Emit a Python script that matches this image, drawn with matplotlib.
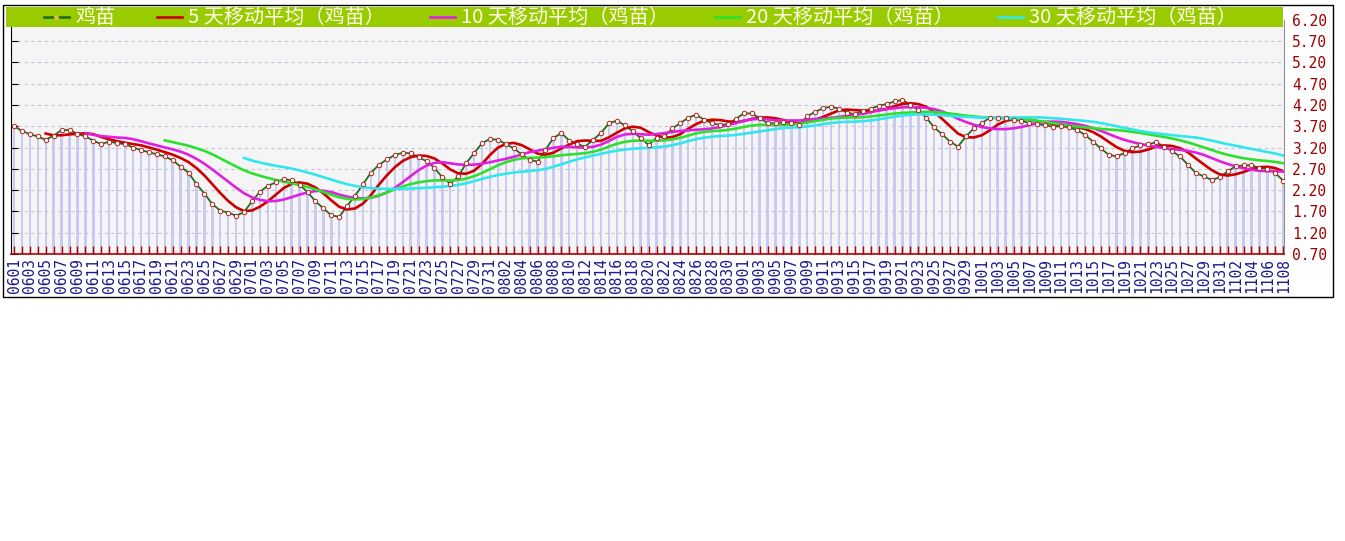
import numpy as np
import pandas as pd
import matplotlib
matplotlib.use("Agg")
import matplotlib.pyplot as plt
from matplotlib.lines import Line2D
from matplotlib.patches import Rectangle

plt.rcParams['font.family'] = ['Noto Sans CJK SC', 'DejaVu Sans']

# daily price of 鸡苗, 0601 .. 1108
start_day = "2023-06-01"
price = [
    3.70, 3.59, 3.51, 3.46, 3.38, 3.48, 3.61, 3.61, 3.52, 3.46,
    3.36, 3.28, 3.34, 3.30, 3.28, 3.20, 3.14, 3.09, 3.04, 2.99,
    2.90, 2.75, 2.61, 2.34, 2.12, 1.87, 1.72, 1.67, 1.60, 1.68,
    1.94, 2.16, 2.30, 2.38, 2.46, 2.43, 2.33, 2.15, 1.94, 1.77,
    1.61, 1.57, 1.83, 2.07, 2.34, 2.61, 2.79, 2.92, 3.02, 3.08,
    3.06, 2.97, 2.88, 2.72, 2.50, 2.35, 2.52, 2.83, 3.07, 3.30,
    3.40, 3.38, 3.28, 3.18, 3.04, 2.91, 2.87, 3.15, 3.42, 3.54,
    3.36, 3.28, 3.22, 3.38, 3.54, 3.77, 3.83, 3.72, 3.58, 3.42,
    3.26, 3.43, 3.46, 3.65, 3.77, 3.90, 3.97, 3.85, 3.77, 3.73,
    3.75, 3.87, 4.00, 4.00, 3.89, 3.77, 3.77, 3.79, 3.77, 3.73,
    3.93, 4.04, 4.12, 4.16, 4.11, 4.02, 3.98, 4.05, 4.11, 4.18,
    4.22, 4.28, 4.32, 4.20, 4.08, 3.90, 3.67, 3.51, 3.34, 3.22,
    3.46, 3.65, 3.77, 3.90, 3.90, 3.90, 3.85, 3.83, 3.77, 3.75,
    3.72, 3.69, 3.70, 3.67, 3.61, 3.50, 3.34, 3.18, 3.03, 2.99,
    3.07, 3.18, 3.25, 3.28, 3.32, 3.22, 3.11, 2.99, 2.79, 2.60,
    2.52, 2.44, 2.50, 2.64, 2.76, 2.78, 2.78, 2.72, 2.70, 2.60,
    2.42,
]
ma_windows = [5, 10, 20, 30]
ma_colors = ['#CC0000', '#E020E0', '#2EE02E', '#33E6EE']
price_name = '鸡苗'
ma_names = [f'{w} 天移动平均（鸡苗）' for w in ma_windows]
y_ticks = np.arange(0.70, 6.21, 0.5)

days = pd.date_range(start_day, periods=len(price))
labels = [d if i % 2 == 0 else '' for i, d in enumerate(days.strftime('%m%d'))]
s = pd.Series(price)
x = np.arange(len(price))

W, H = 1345, 541
fig = plt.figure(figsize=(W / 100, H / 100), dpi=100)
fig.patch.set_facecolor('white')


def fx(p):
    return p / W


def fy(p):
    return 1 - p / H


ax = fig.add_axes([fx(11), fy(254), fx(1284) - fx(11), fy(19.7) - fy(254)])
ax.set_facecolor('#F6F5F5')

ax.bar(x, s - 0.70, bottom=0.70, width=0.3, color='#CACAF2', zorder=1)
ax.plot(x, s, color='#1E6E1E', lw=1.3, zorder=3)
for w, c in zip(ma_windows, ma_colors):
    ax.plot(x, s.rolling(w).mean(), color=c, lw=1.9, zorder=4)
ax.plot(x, s, ls='none', marker='o', ms=3.2, mfc='white', mec='#B22222',
        mew=0.7, zorder=5)

ax.set_xlim(-0.38, len(price) - 0.9)
ax.set_ylim(0.70, 6.20)
ax.set_yticks(y_ticks)
ax.set_yticklabels([f'{v:.2f}' for v in y_ticks])
ax.yaxis.grid(True, linestyle=(0, (3, 3)), color='#C4C4DC', lw=0.8)
ax.tick_params(axis='y', left=True, right=False, labelleft=False, labelright=True,
               direction='in', length=5, color='black', labelcolor='#A00000',
               labelsize=10.5, pad=6)
for t in ax.get_yticklabels():
    t.set_family(['DejaVu Sans Mono'])

ax.set_xticks(x)
ax.set_xticklabels(labels, rotation=90)
ax.tick_params(axis='x', direction='in', length=6, color='#B00000', width=1,
               labelsize=10.5, labelcolor='#1A1A8C', pad=3)
for t in ax.get_xticklabels():
    t.set_family(['DejaVu Sans Mono'])

ax.spines['bottom'].set_color('#B00000')
ax.spines['bottom'].set_linewidth(1.2)
ax.spines['left'].set_color('black')
ax.spines['right'].set_color('#909090')
ax.spines['top'].set_visible(False)

# legend band
fig.patches.append(Rectangle((fx(6), fy(27)), fx(1283) - fx(6), fy(7) - fy(27),
                             transform=fig.transFigure, facecolor='#99CC00',
                             edgecolor='none', zorder=5))
leg_x = [44, 157, 430, 715, 998]
leg_names = [price_name] + ma_names
leg_colors = ['#1E6E1E'] + ma_colors
for lx, name, c in zip(leg_x, leg_names, leg_colors):
    fig.lines.append(Line2D([fx(lx), fx(lx + 25)], [fy(17), fy(17)],
                            transform=fig.transFigure, color=c, lw=1.9, zorder=6))
    fig.text(fx(lx + 31), fy(17.5), name, color='#FFFFE8', fontsize=14.5,
             va='center', ha='left', zorder=7)
fig.lines.append(Line2D([fx(56)], [fy(17)], transform=fig.transFigure, marker='o',
                        ms=2.5, mfc='#E0C040', mec='#E0C040', zorder=7))

# outer frame
fig.patches.append(Rectangle((fx(3), fy(297)), fx(1333) - fx(3), fy(5) - fy(297),
                             transform=fig.transFigure, fill=False,
                             edgecolor='black', lw=1, zorder=10))

fig.savefig('out.png', dpi=100)
